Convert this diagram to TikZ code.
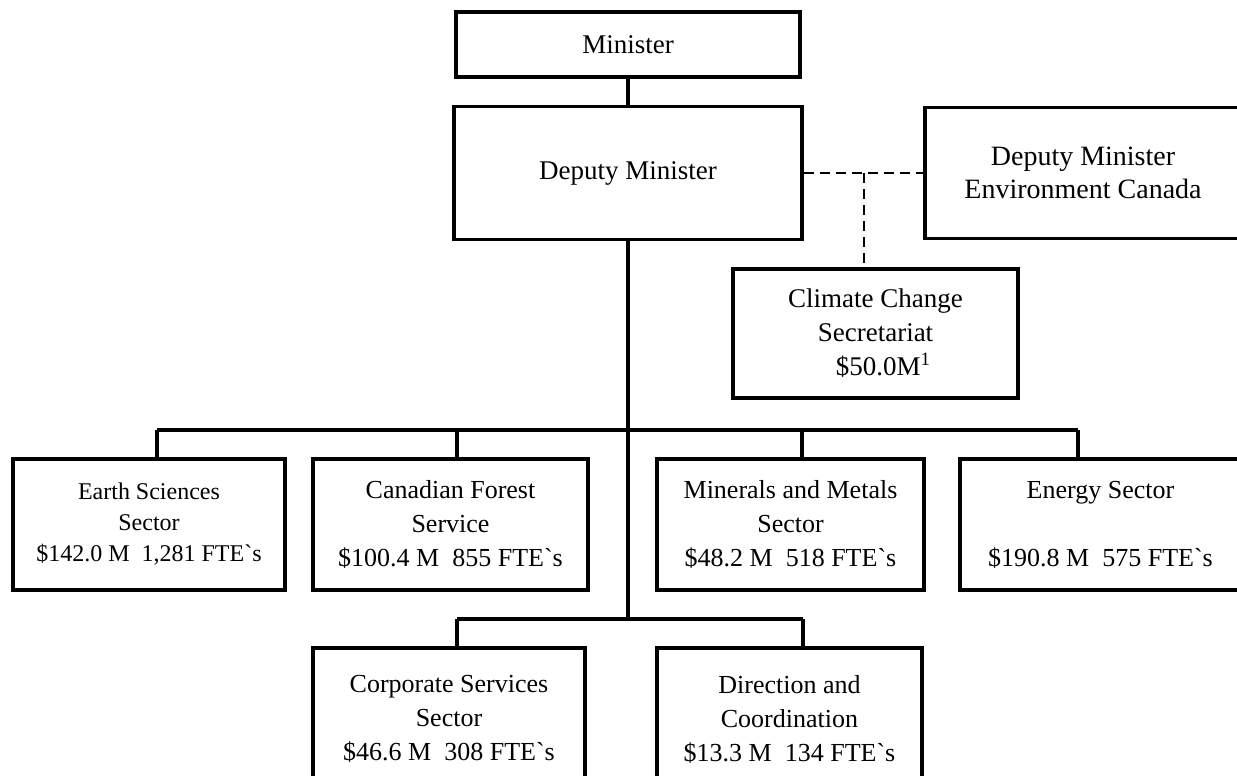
\documentclass[tikz,border=0pt]{standalone}
\usepackage{fontspec}
\setmainfont{Liberation Serif}
\usetikzlibrary{calc}
\newcommand{\ftes}{FTE\textasciigrave s}

\begin{document}
\begin{tikzpicture}[
  x=0.5pt, y=-0.5pt,
  unit/.style={draw, line width=1.65pt, align=center, inner sep=0pt,
               font=\fontsize{13}{17}\selectfont},
  link/.style={line width=1.65pt},
  dashlink/.style={line width=1pt, dash pattern=on 5pt off 3pt}
]
\useasboundingbox (0,0) rectangle (1237,776);
% top of the chart
\node[unit, minimum width=172pt, minimum height=32.5pt, font=\fontsize{13.5}{17}\selectfont] (minister) at (628,44.5) {Minister};
\node[unit, minimum width=174pt, minimum height=66.5pt, font=\fontsize{13.5}{17}\selectfont] (deputy)   at (628,173)  {Deputy Minister};
\node[unit, minimum width=158pt, minimum height=65.5pt, font=\fontsize{14}{16.5}\selectfont] (envdm)    at (1083,173) {Deputy Minister\\Environment Canada};
\node[unit, minimum width=142.5pt, minimum height=64.5pt, font=\fontsize{13.5}{17}\selectfont] (climate) at (875.5,333.5)
     {Climate Change\\Secretariat\\\hspace{8pt}\$50.0M\textsuperscript{1}};
% sectors
\node[unit, minimum width=136pt, minimum height=65.5pt, font=\fontsize{12}{15.5}\selectfont] (earth) at (149,524.5)
     {Earth Sciences\\Sector\\\$142.0 M~~1,281 \ftes};
\node[unit, minimum width=137.5pt, minimum height=65.5pt] (forest)   at (450.5,524.5) {Canadian Forest\\Service\\\$100.4 M~~855 \ftes};
\node[unit, minimum width=133.5pt, minimum height=65.5pt] (minerals) at (790.5,524.5) {Minerals and Metals\\Sector\\\$48.2 M~~518 \ftes};
\node[unit, minimum width=140.5pt, minimum height=65.5pt] (energy)   at (1100.5,524.5) {Energy Sector\\[17pt]\$190.8 M~~575 \ftes};
\node[unit, minimum width=136pt, minimum height=71pt] (corporate) at (449,719)   {Corporate Services\\Sector\\\$46.6 M~~308 \ftes};
\node[unit, minimum width=132.5pt, minimum height=71pt] (direction) at (789.5,719) {Direction and\\Coordination\\\$13.3 M~~134 \ftes};
% drop points on the two bars
\coordinate (dEarth)    at (157,430);
\coordinate (dForest)   at (457,430);
\coordinate (dMinerals) at (802,430);
\coordinate (dEnergy)   at (1078,430);
\coordinate (dCorp)     at (457,619);
\coordinate (dDir)      at (803,619);
\coordinate (split)     at (864,173);

\draw[link] (minister) -- (deputy);
\draw[link] (deputy.south) -- (deputy.south |- dCorp);
\draw[link] (dEarth) -- (dEnergy);
\draw[link] (dCorp) -- (dDir);
\foreach \d/\n in {dEarth/earth, dForest/forest, dMinerals/minerals, dEnergy/energy, dCorp/corporate, dDir/direction}
  \draw[link] (\d) -- (\d |- \n.north);
\draw[dashlink] (deputy.east) -- (envdm.west);
\draw[dashlink] (split) -- (split |- climate.north);
\end{tikzpicture}
\end{document}
